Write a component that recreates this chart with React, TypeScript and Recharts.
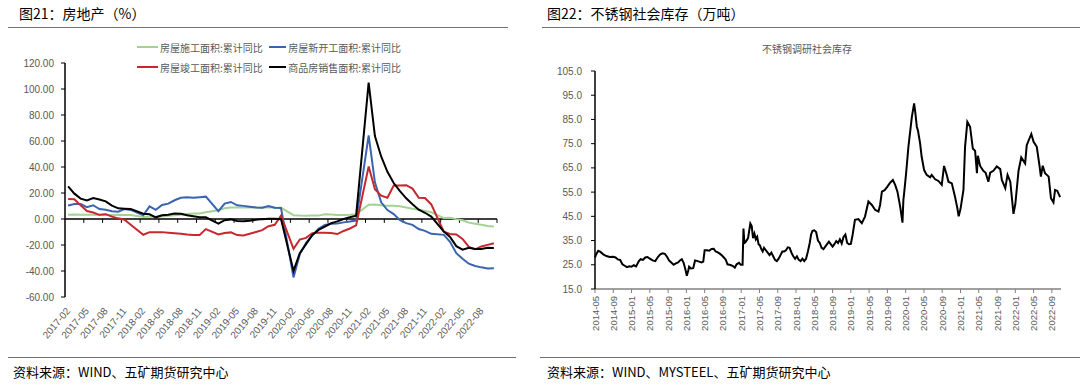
import React from "react";
import { LineChart, Line, XAxis, YAxis, ReferenceLine } from "recharts";

// ---------- 图21：房地产 (monthly, 2017-02 .. 2022-10, January has no release) ----------
const leftTicks = [0, 3, 6, 9, 12, 15, 18, 21, 24, 27, 30, 33, 36, 39, 42, 45, 48, 51, 54, 57, 60, 63, 66];
const leftTickLabels = [
  "2017-02", "2017-05", "2017-08", "2017-11", "2018-02", "2018-05", "2018-08", "2018-11",
  "2019-02", "2019-05", "2019-08", "2019-11", "2020-02", "2020-05", "2020-08", "2020-11",
  "2021-02", "2021-05", "2021-08", "2021-11", "2022-02", "2022-05", "2022-08",
];
const leftYTicks = [-60, -40, -20, 0, 20, 40, 60, 80, 100, 120];

// 房屋施工面积:累计同比
const underConstruction = [
  3.2, 3.5, 3.3, 3.3, 3.2, 3.1, 3.3, 3.1, 3.2, 3.1, 3.0,
  null, 1.6, 1.7, 1.8, 2.0, 2.5, 2.9, 3.3, 3.9, 4.2, 4.3, 5.2,
  null, 6.8, 8.2, 8.8, 8.8, 8.8, 9.0, 8.8, 8.7, 9.0, 8.7, 8.7,
  null, 2.9, 2.6, 2.5, 2.6, 2.6, 3.6, 3.4, 3.1, 3.1, 3.2, 3.7,
  null, 11.0, 11.2, 10.5, 10.1, 10.2, 9.8, 8.9, 7.9, 7.1, 6.1, 5.2,
  null, 0.7, 1.0, -0.1, -1.0, -2.8, -3.7, -4.5, -5.3, -5.7,
];
// 房屋新开工面积:累计同比
const newStarts = [
  10.4, 11.6, 11.5, 9.1, 10.6, 7.7, 7.1, 6.0, 5.6, 7.7, 7.0,
  null, 2.9, 9.7, 7.0, 10.8, 11.8, 14.4, 16.3, 16.7, 16.3, 16.8, 17.2,
  null, 6.0, 11.9, 13.1, 10.5, 10.1, 9.5, 8.9, 8.6, 10.0, 8.6, 8.5,
  null, -44.9, -27.2, -18.4, -12.8, -7.6, -4.5, -3.6, -3.4, -2.6, -2.0, -1.2,
  null, 64.3, 28.2, 12.8, 6.9, 3.8, -0.9, -3.2, -4.5, -7.7, -9.1, -11.4,
  null, -12.2, -17.5, -26.3, -30.6, -34.4, -36.1, -37.2, -38.0, -37.8,
];
// 房屋竣工面积:累计同比
const completions = [
  15.4, 15.2, 10.5, 6.1, 5.0, 3.2, 3.7, 1.8, 0.5, -0.5, -4.4,
  null, -12.1, -10.1, -10.2, -10.1, -10.6, -11.0, -11.4, -12.0, -12.3, -12.3, -7.8,
  null, -11.9, -10.8, -10.3, -12.4, -12.7, -11.3, -10.0, -8.6, -5.5, -4.5, 2.6,
  null, -22.9, -15.8, -14.5, -10.9, -10.5, -10.5, -10.8, -11.6, -9.2, -7.3, -4.9,
  null, 40.4, 22.9, 17.9, 16.4, 25.7, 25.7, 26.0, 23.4, 16.3, 16.2, 11.2,
  null, -9.7, -11.5, -11.9, -15.3, -21.5, -23.3, -21.1, -19.9, -18.7,
];
// 商品房销售面积:累计同比
const sales = [
  25.1, 19.5, 15.7, 14.3, 16.1, 15.0, 13.6, 10.3, 8.2, 7.9, 7.7,
  null, 4.1, 3.6, 1.3, 2.9, 3.3, 4.2, 4.0, 2.9, 2.2, 1.4, 1.3,
  null, -3.6, -0.9, -0.3, -1.6, -1.8, -1.3, -0.6, -0.1, 0.1, 0.2, -0.1,
  null, -39.9, -26.3, -19.3, -12.3, -8.4, -5.8, -3.3, -1.8, 0.0, 1.3, 2.6,
  null, 104.9, 63.8, 48.1, 36.3, 27.7, 21.5, 15.9, 11.3, 7.1, 4.8, 1.9,
  null, -9.6, -13.8, -20.9, -23.6, -22.2, -23.1, -23.0, -22.2, -22.3,
];

const GREEN = "#A3D391";
const BLUE = "#3A64B0";
const RED = "#C7282E";
const BLACK = "#000000";

const legendItems = [
  { name: "房屋施工面积:累计同比", color: GREEN },
  { name: "房屋新开工面积:累计同比", color: BLUE },
  { name: "房屋竣工面积:累计同比", color: RED },
  { name: "商品房销售面积:累计同比", color: BLACK },
];

// ---------- 图22：不锈钢社会库存 (weekly, [month of year, 万吨]) ----------
const inv2014 = [[5.0, 28.0], [5.3, 29.5], [5.7, 30.8], [6.2, 30.3], [6.8, 29.3], [7.5, 28.6], [8.2, 28.2], [9.0, 28.3], [9.5, 28.0], [10.0, 27.2], [10.5, 27.0], [11.0, 25.2], [11.5, 24.6], [12.0, 24.0], [12.5, 24.4]];
const inv2015 = [[1.0, 24.2], [1.5, 24.8], [2.0, 24.3], [2.6, 26.5], [3.0, 27.3], [3.5, 27.0], [4.0, 28.0], [4.5, 28.2], [5.0, 27.5], [5.6, 26.8], [6.2, 26.5], [6.8, 28.3], [7.3, 29.3], [7.8, 29.7], [8.3, 29.5], [8.8, 28.2], [9.2, 26.8], [9.7, 25.9], [10.2, 25.0], [10.7, 25.6], [11.2, 26.0], [11.6, 26.8], [12.0, 27.3], [12.4, 25.8], [12.8, 23.0]];
const inv2016 = [[1.1, 20.5], [1.4, 22.5], [1.6, 24.2], [2.0, 23.5], [2.5, 23.6], [2.9, 26.8], [3.3, 26.6], [3.8, 26.3], [4.3, 26.0], [4.7, 26.3], [5.0, 31.0], [5.5, 31.0], [6.0, 30.8], [6.5, 31.5], [7.0, 31.6], [7.4, 30.5], [7.8, 30.2], [8.3, 29.6], [8.8, 28.8], [9.2, 28.0], [9.6, 27.2], [10.0, 25.2], [10.4, 25.0], [10.8, 24.8], [11.2, 24.5], [11.6, 23.8], [12.0, 25.2], [12.5, 25.8], [12.9, 25.0]];
const inv2017 = [[1.3, 25.0], [1.5, 40.0], [1.7, 34.0], [2.0, 34.5], [2.5, 36.0], [3.0, 42.0], [3.3, 41.0], [3.6, 36.0], [3.9, 37.8], [4.2, 35.5], [4.5, 36.5], [4.8, 33.5], [5.1, 33.0], [5.4, 31.5], [5.7, 30.5], [6.0, 32.0], [6.4, 31.0], [6.8, 30.0], [7.2, 29.0], [7.6, 30.0], [8.0, 28.5], [8.4, 27.0], [8.8, 26.5], [9.2, 27.5], [9.6, 29.0], [10.0, 30.5], [10.4, 30.5], [10.8, 31.0], [11.2, 32.2], [11.6, 32.0], [12.0, 30.0], [12.4, 28.5], [12.8, 27.5]];
const inv2018 = [[1.2, 28.5], [1.6, 27.0], [2.0, 26.5], [2.4, 27.5], [2.8, 26.5], [3.2, 27.5], [3.6, 30.5], [4.0, 34.0], [4.3, 37.5], [4.6, 39.0], [5.0, 39.2], [5.4, 38.5], [5.8, 35.0], [6.2, 34.0], [6.6, 32.0], [7.0, 31.5], [7.4, 32.5], [7.8, 33.5], [8.2, 34.5], [8.6, 33.5], [9.0, 32.5], [9.4, 33.5], [9.8, 34.8], [10.2, 34.0], [10.6, 35.5], [11.0, 33.8], [11.4, 36.5], [11.8, 37.5], [12.2, 34.0], [12.6, 33.5]];
const inv2019 = [[1.0, 33.6], [1.4, 37.5], [1.9, 43.6], [2.65, 43.9], [3.4, 42.2], [4.1, 44.9], [4.85, 51.1], [5.6, 49.7], [6.3, 47.7], [7.05, 47.0], [7.4, 49.7], [7.8, 55.2], [8.4, 55.8], [9.0, 57.3], [9.6, 58.9], [10.2, 60.0], [10.7, 58.0], [11.2, 55.2], [11.8, 49.0], [12.3, 42.4], [12.5, 51.8]];
const inv2020 = [[0.66, 54.5], [1.1, 62.8], [1.6, 73.7], [2.35, 86.0], [2.85, 91.6], [3.1, 88.0], [3.44, 82.0], [3.7, 80.3], [4.16, 75.1], [4.5, 69.6], [5.04, 64.1], [5.6, 62.1], [6.35, 61.1], [6.7, 62.1], [7.45, 60.3], [8.17, 59.6], [8.9, 58.0], [9.4, 65.8], [10.0, 62.1], [10.36, 59.3], [11.1, 58.6], [11.8, 53.1], [12.3, 48.5], [12.6, 45.0]];
const inv2021 = [[1.0, 48.0], [1.65, 55.9], [2.0, 73.7], [2.5, 84.0], [3.1, 82.0], [3.7, 73.0], [4.2, 72.0], [4.6, 62.8], [4.8, 70.0], [5.3, 65.8], [6.0, 63.8], [6.5, 63.0], [7.1, 59.3], [7.5, 63.0], [8.2, 63.8], [8.95, 65.6], [9.7, 64.5], [10.05, 60.0], [10.8, 56.6], [11.3, 62.1], [11.9, 59.3], [12.6, 46.0]];
const inv2022 = [[1.0, 50.0], [1.7, 63.8], [2.3, 69.3], [3.15, 66.8], [3.5, 74.4], [4.5, 79.0], [5.0, 75.8], [5.7, 73.7], [6.3, 65.8], [6.6, 61.4], [7.0, 65.9], [7.5, 62.8], [8.3, 61.4], [8.8, 52.5], [9.35, 50.7], [9.7, 55.9], [10.2, 55.5], [10.8, 52.9]];

const inventoryByYear: [number, number[][]][] = [
  [2014, inv2014], [2015, inv2015], [2016, inv2016], [2017, inv2017], [2018, inv2018],
  [2019, inv2019], [2020, inv2020], [2021, inv2021], [2022, inv2022],
];

const rightTickLabels = [
  "2014-05", "2014-09", "2015-01", "2015-05", "2015-09", "2016-01", "2016-05", "2016-09",
  "2017-01", "2017-05", "2017-09", "2018-01", "2018-05", "2018-09", "2019-01", "2019-05",
  "2019-09", "2020-01", "2020-05", "2020-09", "2021-01", "2021-05", "2021-09", "2022-01",
  "2022-05", "2022-09",
];
const rightYTicks = [15, 25, 35, 45, 55, 65, 75, 85, 95, 105];

const leftData = underConstruction.map((_, i) => ({
  i,
  a: underConstruction[i],
  b: newStarts[i],
  c: completions[i],
  d: sales[i],
}));

// months since 2014-05
const rightData = inventoryByYear.flatMap(([year, pts]) =>
  pts.map(([m, v]) => ({ t: (year - 2014) * 12 + m - 5, v }))
);
const rightTicks = rightTickLabels.map((_, k) => k * 4);

const AXIS_TEXT = "#595959";
const CJK = "'Noto Sans CJK SC', 'Noto Sans', sans-serif";
const NUM = "'Liberation Sans', sans-serif";

function LegendBox() {
  return (
    <div
      style={{
        position: "absolute",
        left: 137,
        top: 40,
        display: "grid",
        gridTemplateColumns: "132px 132px",
        rowGap: 6,
        fontFamily: CJK,
        fontSize: 10,
        color: AXIS_TEXT,
      }}
    >
      {legendItems.map((it) => (
        <div key={it.name} style={{ display: "flex", alignItems: "center", height: 14, whiteSpace: "nowrap" }}>
          <span style={{ display: "inline-block", width: 21, height: 2, background: it.color, marginRight: 2 }} />
          {it.name}
        </div>
      ))}
    </div>
  );
}

const DiagTick = (props: any) => {
  const { x, y, index } = props;
  return (
    <text
      x={x}
      y={y}
      transform={`rotate(-50, ${x}, ${y})`}
      textAnchor="end"
      dominantBaseline="central"
      fontSize={10}
      fontFamily={NUM}
      fill={AXIS_TEXT}
    >
      {leftTickLabels[index] ?? ""}
    </text>
  );
};

const VertTick = (props: any) => {
  const { x, y, index } = props;
  return (
    <text
      x={x}
      y={y}
      transform={`rotate(-90, ${x}, ${y})`}
      textAnchor="end"
      dominantBaseline="central"
      fontSize={9.5}
      fontFamily={NUM}
      fill={AXIS_TEXT}
    >
      {rightTickLabels[index] ?? ""}
    </text>
  );
};

function PropertyChart() {
  return (
    <LineChart
      width={540}
      height={390}
      data={leftData}
      margin={{ top: 63, right: 43, bottom: 53, left: 5 }}
    >
      <XAxis
        dataKey="i"
        type="number"
        domain={[-0.5, 68.5]}
        ticks={leftTicks}
        interval={0}
        axisLine={false}
        tickLine={false}
        tick={<DiagTick />}
        tickMargin={6}
        height={40}
      />
      <YAxis
        type="number"
        domain={[-60, 120]}
        ticks={leftYTicks}
        interval={0}
        width={60}
        axisLine={{ stroke: "#000", strokeWidth: 1.5 }}
        tickLine={{ stroke: "#000" }}
        tickSize={4}
        tickMargin={7}
        tick={{ fontSize: 10, fill: AXIS_TEXT, fontFamily: NUM }}
        tickFormatter={(v: number) => v.toFixed(2)}
      />
      <ReferenceLine y={0} stroke="#000" strokeWidth={1.5} />
      {leftTicks.map((t) => (
        <ReferenceLine
          key={t}
          segment={[{ x: t + 2.5, y: 0 }, { x: t + 2.5, y: -3 }]}
          stroke="#000"
          strokeWidth={1}
        />
      ))}
      <Line dataKey="a" name={legendItems[0].name} stroke={GREEN} strokeWidth={2} dot={false} connectNulls isAnimationActive={false} />
      <Line dataKey="b" name={legendItems[1].name} stroke={BLUE} strokeWidth={2} dot={false} connectNulls isAnimationActive={false} />
      <Line dataKey="c" name={legendItems[2].name} stroke={RED} strokeWidth={2} dot={false} connectNulls isAnimationActive={false} />
      <Line dataKey="d" name={legendItems[3].name} stroke={BLACK} strokeWidth={2} dot={false} connectNulls isAnimationActive={false} />
    </LineChart>
  );
}

function InventoryChart() {
  return (
    <LineChart
      width={540}
      height={390}
      data={rightData}
      margin={{ top: 71, right: 19, bottom: 61, left: 5 }}
    >
      <XAxis
        dataKey="t"
        type="number"
        domain={[0, 102]}
        ticks={rightTicks}
        interval={0}
        axisLine={{ stroke: "#808080", strokeWidth: 1.5 }}
        tickLine={{ stroke: "#808080" }}
        tickSize={4}
        tick={<VertTick />}
        tickMargin={3}
        height={40}
      />
      <YAxis
        type="number"
        domain={[15, 105]}
        ticks={rightYTicks}
        interval={0}
        width={50}
        axisLine={{ stroke: "#000", strokeWidth: 1.5 }}
        tickLine={{ stroke: "#000" }}
        tickSize={4}
        tickMargin={9}
        tick={{ fontSize: 10, fill: AXIS_TEXT, fontFamily: NUM }}
        tickFormatter={(v: number) => v.toFixed(1)}
      />
      <Line dataKey="v" stroke="#000" strokeWidth={2} dot={false} isAnimationActive={false} />
    </LineChart>
  );
}

export default function App() {
  const rule = (left: number, top: number, width: number) => (
    <div style={{ position: "absolute", left, top, width, height: 0, borderTop: "1.5px solid #707070" }} />
  );
  const text = (left: number, top: number, size: number, s: string, color = "#000") => (
    <div style={{ position: "absolute", left, top, fontSize: size, fontFamily: CJK, color, whiteSpace: "nowrap", lineHeight: 1 }}>
      {s}
    </div>
  );
  return (
    <div style={{ position: "absolute", left: 0, top: 0, width: 1080, height: 390, background: "#fff", overflow: "hidden" }}>
      {text(19, 6, 14, "图21：房地产（%）")}
      {text(547, 6, 14, "图22：不锈钢社会库存（万吨）")}
      {rule(8, 27, 500)}
      {rule(542, 27, 538)}
      <div style={{ position: "absolute", left: 0, top: 0 }}>
        <PropertyChart />
      </div>
      <LegendBox />
      <div style={{ position: "absolute", left: 540, top: 0 }}>
        <InventoryChart />
      </div>
      {text(762, 44, 10, "不锈钢调研社会库存", AXIS_TEXT)}
      {rule(8, 357, 508)}
      {rule(540, 357, 540)}
      {text(13, 365, 13, "资料来源：WIND、五矿期货研究中心")}
      {text(547, 365, 13, "资料来源：WIND、MYSTEEL、五矿期货研究中心")}
    </div>
  );
}
